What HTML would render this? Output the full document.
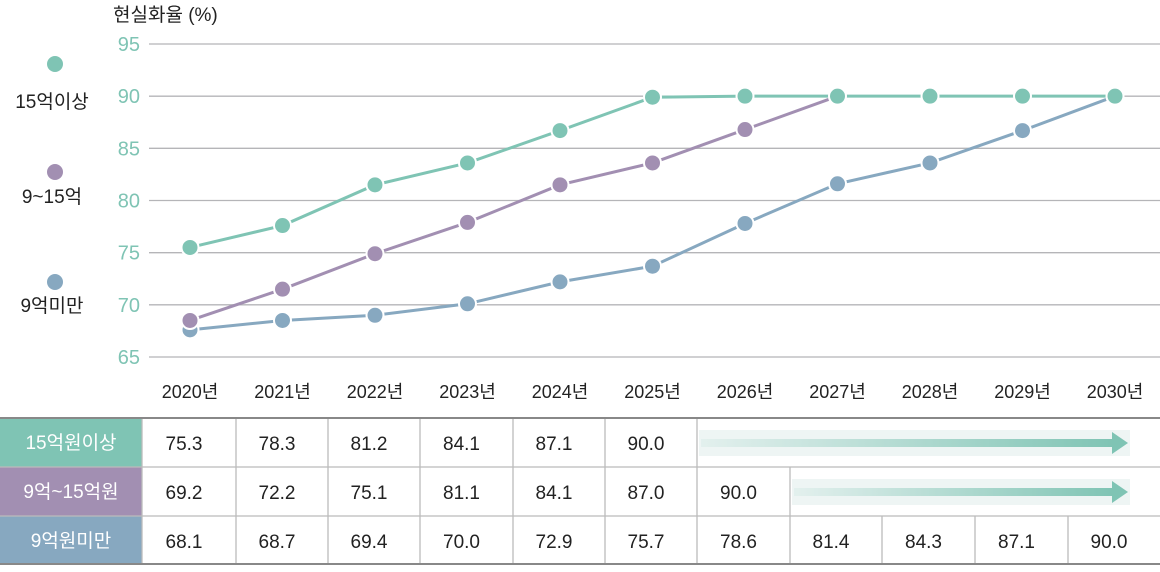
<!DOCTYPE html>
<html><head><meta charset="utf-8"><style>
body{margin:0;width:1160px;height:567px;background:#fff;overflow:hidden;font-family:"Liberation Sans","Noto Sans CJK KR",sans-serif}
svg text{font-family:"Liberation Sans","Noto Sans CJK KR",sans-serif}
</style></head><body>
<svg id="c" width="1160" height="567">
<defs>
<linearGradient id="ag" x1="0" x2="1"><stop offset="0" stop-color="#7fc4b4" stop-opacity="0.1"/><stop offset="1" stop-color="#7fc4b4"/></linearGradient>
</defs>
<g id="grid"></g><g id="lines"></g><g id="tbl"></g>
</svg>
<script>
const years=["2020년","2021년","2022년","2023년","2024년","2025년","2026년","2027년","2028년","2029년","2030년"];
const yTicks=[65,70,75,80,85,90,95];
const seriesNames=["15억이상","9~15억","9억미만"];
const rowLabels=["15억원이상","9억~15억원","9억원미만"];
const colors=["#7fc4b4","#a28fb2","#87a8c0"];
const s1=[75.5,77.6,81.5,83.6,86.7,89.9,90,90,90,90,90];
const s2=[68.5,71.5,74.9,77.9,81.5,83.6,86.8,90];
const s3=[67.6,68.5,69.0,70.1,72.2,73.7,77.8,81.6,83.6,86.7,90];
const t1=["75.3","78.3","81.2","84.1","87.1","90.0"];
const t2=["69.2","72.2","75.1","81.1","84.1","87.0","90.0"];
const t3=["68.1","68.7","69.4","70.0","72.9","75.7","78.6","81.4","84.3","87.1","90.0"];
const NS="http://www.w3.org/2000/svg";
const x=i=>190+i*92.5;
const y=v=>357-(v-65)*313/30;
function mk(tag,at,parent,txt){const e=document.createElementNS(NS,tag);for(const k in at)e.setAttribute(k,at[k]);if(txt!==undefined)e.textContent=txt;parent.appendChild(e);return e;}
const grid=document.getElementById('grid'),lines=document.getElementById('lines'),tbl=document.getElementById('tbl');
let e=mk('text',{x:113,y:21,'font-size':19,fill:'#222'},grid,'현실화율 (%)');


yTicks.forEach(v=>{
 let l=mk('line',{x1:149,x2:1160,y1:y(v),y2:y(v),stroke:'#b5b5b8','stroke-width':1.3},grid);
 
 
 let t=mk('text',{x:140,y:y(v)+7,'font-size':20,fill:'#7fc4b4','text-anchor':'end'},grid,v);
 
 
});
years.forEach((yr,i)=>{
 let t=mk('text',{x:x(i),y:398,'font-size':18,fill:'#222','text-anchor':'middle'},grid,yr);
 
 
});
[[64,108],[172,203],[282,312]].forEach((p,i)=>{
 let c=mk('circle',{cx:55,cy:p[0],r:8,fill:colors[i]},grid);
 
 
 let t=mk('text',{x:52,y:p[1],'font-size':19,fill:'#222','text-anchor':'middle'},grid,seriesNames[i]);
 
 
});
[s3,s2,s1].forEach((s,k)=>{
 const ci=2-k;
 let p=mk('polyline',{points:s.map((v,i)=>x(i)+','+y(v)).join(' '),fill:'none',stroke:colors[ci],'stroke-width':3},lines);
 
 
 s.forEach((v,i)=>{
  let c=mk('circle',{cx:x(i),cy:y(v),r:8.5,fill:colors[ci],stroke:'#fff','stroke-width':2},lines);
  
  
 });
});
const cols=[142,236,328,420,513,605,697,790,882,975,1068,1160];
const rows=[418,467,516,564];
const tdata=[t1,t2,t3];
for(let r=0;r<3;r++){
 let h=mk('rect',{x:0,y:rows[r],width:142,height:rows[r+1]-rows[r],fill:colors[r]},tbl);
 
 
 let ht=mk('text',{x:71,y:rows[r]+31,'font-size':19,fill:'#fff','text-anchor':'middle'},tbl,rowLabels[r]);
 
 
 tdata[r].forEach((v,i)=>{
  let t=mk('text',{x:(cols[i]+cols[i+1])/2-5,y:rows[r]+32,'font-size':19,fill:'#222','text-anchor':'middle'},tbl,v);
  
  
 });
 const n=tdata[r].length;
 for(let i=0;i<=n;i++){
  if(i===n&&n===11)break;
  let l=mk('line',{x1:cols[i],x2:cols[i],y1:rows[r],y2:rows[r+1],stroke:'#bbb','stroke-width':1.3},tbl);
  
  
 }
 if(n<11){
  const ax=cols[n]+2, ay=rows[r]+25;
  let bg=mk('rect',{x:ax,y:ay-13,width:1130-ax,height:26,fill:'#eef5f4'},tbl);
  
  
  let a=mk('rect',{x:ax+2,y:ay-4,width:1112-ax,height:8,fill:'url(#ag)'},tbl);
  
  
  let hd=mk('polygon',{points:`1112,${ay-11} 1128,${ay} 1112,${ay+11}`,fill:'#7fc4b4'},tbl);
  
  
 }
}
rows.forEach((ry,i)=>{
 let l=mk('line',{x1:0,x2:1160,y1:ry,y2:ry,stroke:(i==0||i==3)?'#888':'#bbb','stroke-width':(i==0||i==3)?2:1.3},tbl);
 
 
});
</script>
</body></html>
